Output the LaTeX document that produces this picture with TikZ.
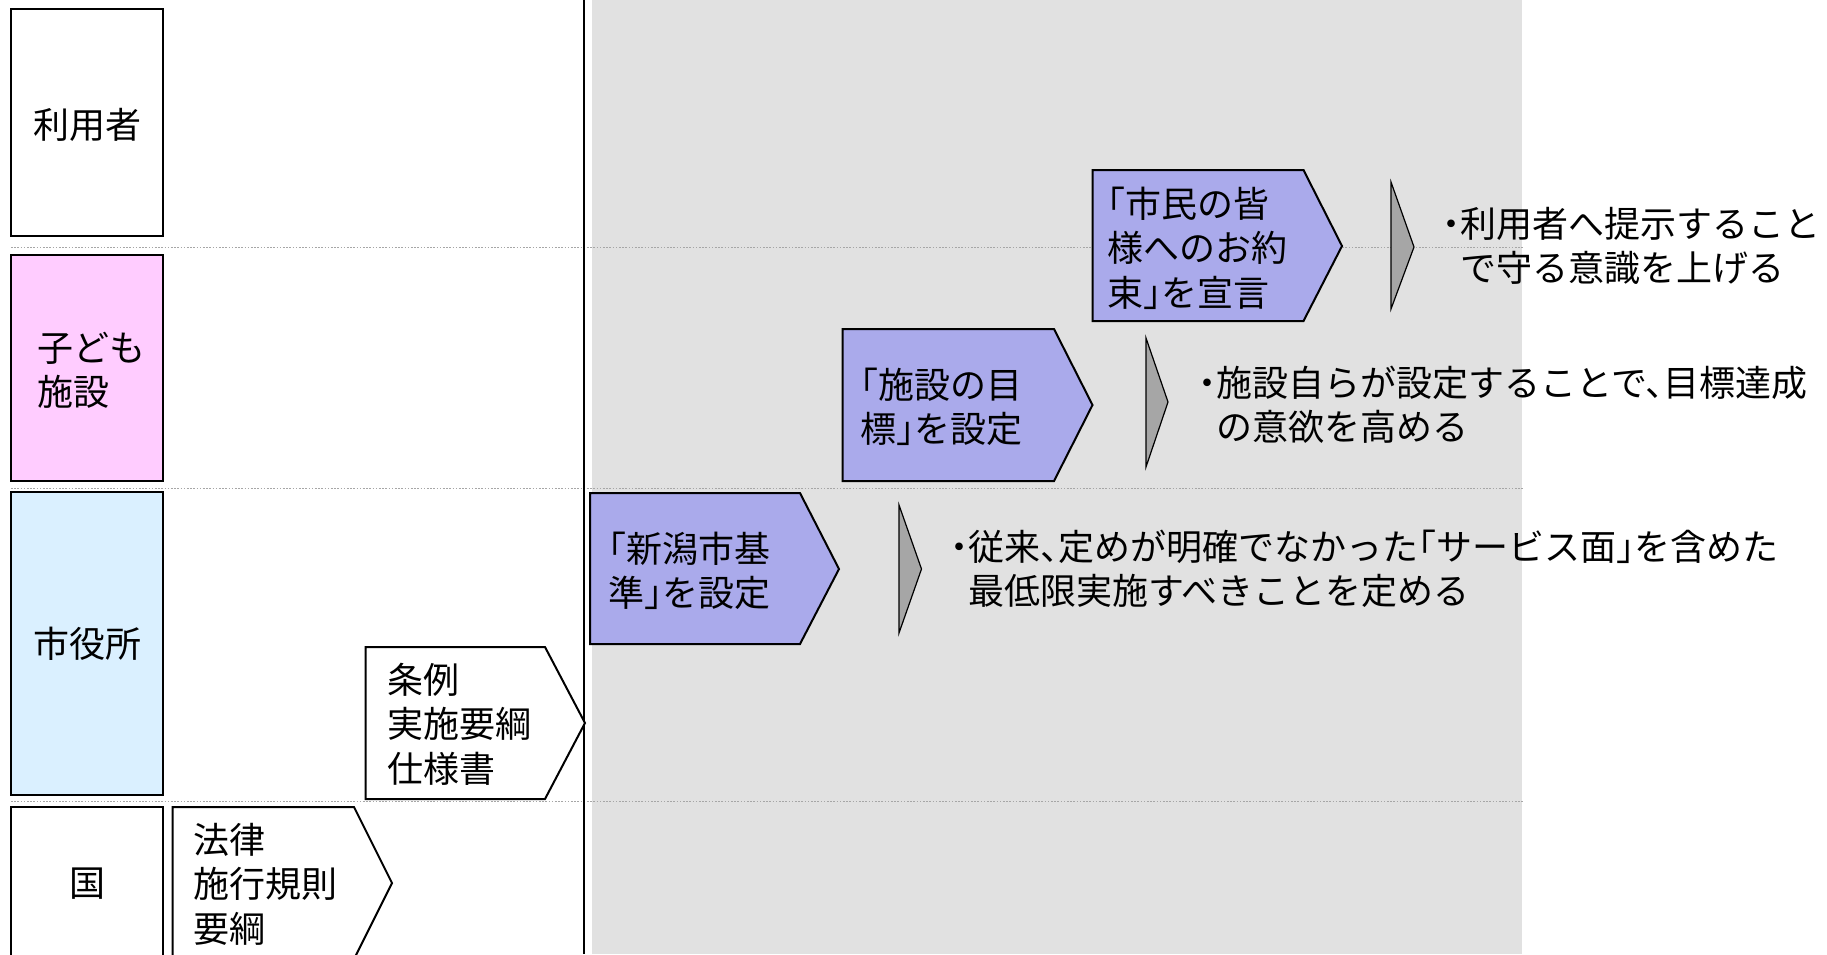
\documentclass[tikz,border=0pt]{standalone}
\usepackage{fontspec}
\setmainfont{Noto Sans CJK JP}[RawFeature=+halt]
\definecolor{bggray}{RGB}{225,225,225}
\definecolor{kpink}{RGB}{255,204,255}
\definecolor{kblue}{RGB}{218,240,255}
\definecolor{kpurple}{RGB}{170,170,235}
\definecolor{chevgray}{RGB}{166,166,166}
\begin{document}
\begin{tikzpicture}[x=0.5pt,y=-0.5pt,
  lane/.style={draw=black,line width=1pt},
  sep/.style={draw=gray!70,line width=0.4pt,dash pattern=on 0.8pt off 0.8pt},
  pent/.style={draw=black,line width=1pt,line join=miter},
  chev/.style={draw=black,fill=chevgray,line width=0.6pt},
  txt/.style={inner sep=0pt,font=\fontsize{18}{22.2}\selectfont,align=left},
]
\useasboundingbox (0,0) rectangle (1827,954);
\fill[white] (0,0) rectangle (1827,954);
% gray area
\fill[bggray] (592,0) rectangle (1522,954);
% separators
\draw[sep] (11,247) -- (1524,247);
\draw[sep] (11,488) -- (1524,488);
\draw[sep] (11,801) -- (1524,801);
% vertical line
\draw[black,line width=1.1pt] (584,0) -- (584,954);
% lane boxes
\draw[lane,fill=white] (11,9) rectangle (163,236);
\draw[lane,fill=kpink] (11,255) rectangle (163,481);
\draw[lane,fill=kblue] (11,492) rectangle (163,795);
\draw[lane,fill=white] (11,807) rectangle (163,960);
\node[txt] (user) at (87,125) {利用者};
\node[txt,anchor=west] (kodomo) at (37,370) {子ども\\施設};
\node[txt] (city) at (87,644) {市役所};
\node[txt] (kuni) at (87,884) {国};
% pentagons
\draw[pent,fill=white] (172.5,807) -- (354,807) -- (392,883) -- (354,959) -- (172.5,959) -- cycle;
\node[txt,anchor=west] (law) at (193.5,884) {法律\\施行規則\\要綱};
\draw[pent,fill=white] (365.5,647) -- (545,647) -- (585,723) -- (545,799) -- (365.5,799) -- cycle;
\node[txt,anchor=west] (jorei) at (387,724) {条例\\実施要綱\\仕様書};
\draw[pent,fill=kpurple] (590,493) -- (800,493) -- (839,569) -- (800,644) -- (590,644) -- cycle;
\node[txt,anchor=west] (kijun) at (608,571) {「新潟市基\\準」を設定};
\draw[pent,fill=kpurple] (842.5,329) -- (1054,329) -- (1092.5,405) -- (1054,481) -- (842.5,481) -- cycle;
\node[txt,anchor=west] (mokuhyo) at (860,407) {「施設の目\\標」を設定};
\draw[pent,fill=kpurple] (1092.5,170) -- (1303.5,170) -- (1342,246) -- (1303.5,321) -- (1092.5,321) -- cycle;
\node[txt,anchor=west] (yakusoku) at (1107,248) {「市民の皆\\様へのお約\\束」を宣言};
% chevrons
\draw[chev] (899,505) -- (921.5,569) -- (899,633) -- cycle;
\draw[chev] (1146,338) -- (1168,402) -- (1146,467) -- cycle;
\draw[chev] (1391,182) -- (1414,247) -- (1391,309) -- cycle;
% descriptions
\node[txt,anchor=west] (d1) at (950,569) {・従来、定めが明確でなかった「サービス面」を含めた\\\hspace*{0.5em}最低限実施すべきことを定める};
\node[txt,anchor=west] (d2) at (1198,405) {・施設自らが設定することで、目標達成\\\hspace*{0.5em}の意欲を高める};
\node[txt,anchor=west] (d3) at (1442,246) {・利用者へ提示すること\\\hspace*{0.5em}で守る意識を上げる};
\end{tikzpicture}
\end{document}
